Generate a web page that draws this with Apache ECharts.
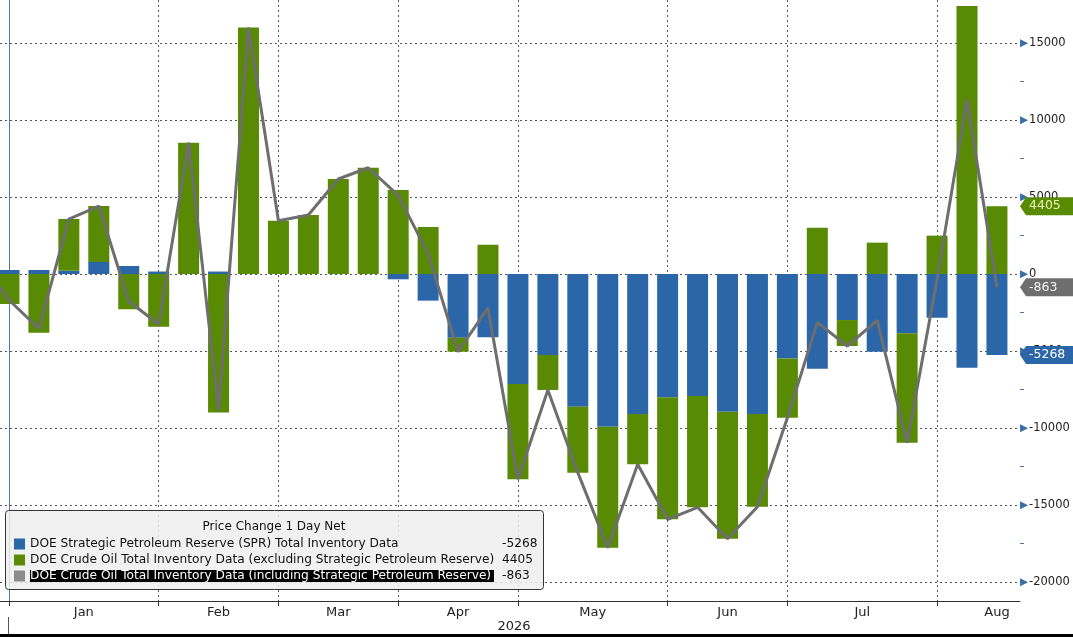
<!DOCTYPE html>
<html>
<head>
<meta charset="utf-8">
<script src="https://cdn.jsdelivr.net/npm/echarts@6/dist/echarts.min.js"></script>
<style>
  html, body { margin: 0; padding: 0; background: #fff; }
  #main { width: 1073px; height: 637px; }
</style>
</head>
<body>
<div id="main"></div>
<script>
// weekly DOE inventory change, 2026 (week ending Friday)
var weeks = [
  '2026-01-02', '2026-01-09', '2026-01-16', '2026-01-23', '2026-01-30',
  '2026-02-06', '2026-02-13', '2026-02-20', '2026-02-27',
  '2026-03-06', '2026-03-13', '2026-03-20', '2026-03-27',
  '2026-04-03', '2026-04-10', '2026-04-17', '2026-04-24',
  '2026-05-01', '2026-05-08', '2026-05-15', '2026-05-22', '2026-05-29',
  '2026-06-05', '2026-06-12', '2026-06-19', '2026-06-26',
  '2026-07-03', '2026-07-10', '2026-07-17', '2026-07-24', '2026-07-31',
  '2026-08-07', '2026-08-14', '2026-08-21'
];
var sprValues = [
  260, 260, 210, 780, 520,
  160, 0, 160, 0,
  0, 0, 0, 0,
  -345, -1730, -4135, -4100,
  -7140, -5260, -8615, -9915, -9090,
  -8010, -7920, -8940, -9090,
  -5480, -6150, -2990, -5045, -3850,
  -2835, -6080, -5268
];
var crudeExSprValues = [
  -1950, -3810, 3360, 3635, -2290,
  -3420, 8530, -9000, 16000,
  3460, 3830, 6170, 6900,
  5450, 3050, -910, 1900,
  -6190, -2270, -4285, -7855, -3270,
  -7920, -7230, -8250, -6020,
  -3850, 3010, -1685, 2035, -7100,
  2490, 17400, 4405
];
// total incl. SPR; the line also starts from the week before the window (2025-12-26)
var priorWeekTotal = 1000;
var totalValues = [
  -1690, -3550, 3570, 4415, -1770,
  -3260, 8530, -8840, 16000,
  3460, 3830, 6170, 6900,
  5105, 1320, -5045, -2200,
  -13330, -7530, -12900, -17770, -12360,
  -15930, -15150, -17190, -15110,
  -9330, -3140, -4675, -3010, -10950,
  -345, 11320, -863
];
var yTicks = [-20000, -15000, -10000, -5000, 0, 5000, 10000, 15000];
var yMinorTicks = [-17500, -12500, -7500, -2500, 2500, 7500, 12500];
var monthNames = ['Jan', 'Feb', 'Mar', 'Apr', 'May', 'Jun', 'Jul', 'Aug', 'Sep', 'Oct', 'Nov', 'Dec'];

var nameSpr = 'DOE Strategic Petroleum Reserve (SPR) Total Inventory Data';
var nameEx = 'DOE Crude Oil Total Inventory Data (excluding Strategic Petroleum Reserve)';
var nameIn = 'DOE Crude Oil Total Inventory Data (including Strategic Petroleum Reserve)';

var colBlue = '#2b66a8', colGreen = '#588a03', colGray = '#6e6e6e';
var FONT = 'DejaVu Sans';

// month start ticks (first week of each month) and centred month labels
var monthStarts = [], monthOf = [];
weeks.forEach(function (d, i) {
  var m = +d.slice(5, 7) - 1;
  if (i === 0 || m !== monthOf[monthOf.length - 1]) { monthStarts.push(i); monthOf.push(m); }
});
var labelPos = [], labelName = {};
monthStarts.forEach(function (s, k) {
  var e;
  if (k + 1 < monthStarts.length) e = monthStarts[k + 1];
  else {
    var p = weeks[s].split('-');
    var t = new Date(Date.UTC(+p[0], +p[1] - 1, +p[2])); e = s;
    while (t.getUTCMonth() === monthOf[k]) { e++; t.setUTCDate(t.getUTCDate() + 7); }
  }
  var mid = (s + e) / 2;
  labelPos.push(mid);
  labelName[String(mid)] = monthNames[monthOf[k]];
});

// x is the week number (Bloomberg spaces weeks evenly)
var xMin = -0.3, xMax = 33.77;
// bars as [value, week] so the value dimension is the stacked one
var sprData = sprValues.map(function (v, i) { return [v, i]; });
var exData = crudeExSprValues.map(function (v, i) { return [v, i]; });
var inData = [[-1, priorWeekTotal]].concat(totalValues.map(function (v, i) { return [i, v]; }));

var last = weeks.length - 1;
var lastVals = {};
lastVals[nameSpr] = sprValues[last];
lastVals[nameEx] = crudeExSprValues[last];
lastVals[nameIn] = totalValues[last];

function tag(value, fill, textColor) {
  return {
    symbol: 'path://M0,9 L6,0 L62,0 L62,18 L6,18 Z',
    symbolSize: [62, 18],
    symbolKeepAspect: false,
    symbolOffset: [31, 0],
    z: 10,
    silent: true,
    itemStyle: { color: fill },
    label: {
      show: true, position: 'insideLeft', distance: 9,
      color: textColor, fontFamily: FONT, fontSize: 12.5, formatter: String(value)
    },
    data: [{ coord: [xMax, value], value: value }]
  };
}

var myChart = echarts.init(document.getElementById('main'));

var option = {
  backgroundColor: '#ffffff',
  animation: false,
  grid: { left: 0, right: 53, top: 0, bottom: 36, containLabel: false },
  xAxis: {
    type: 'value',
    min: xMin,
    max: xMax,
    axisLine: { show: true, onZero: false, lineStyle: { color: '#333', width: 1 } },
    axisTick: { show: true, customValues: monthStarts, length: 5, lineStyle: { color: '#333' } },
    axisLabel: {
      show: true, customValues: labelPos, margin: 5,
      color: '#222', fontFamily: FONT, fontSize: 13,
      formatter: function (v) { return labelName[String(v)] || ''; }
    },
    splitLine: { show: true, lineStyle: { color: '#555', type: [2, 3], width: 1 } }
  },
  yAxis: [{
    type: 'value',
    position: 'right',
    min: -21234,
    max: 17792,
    axisLine: { show: true, lineStyle: { color: '#4f77a6', width: 1 } },
    axisTick: { show: false, customValues: yTicks },
    axisLabel: {
      show: true, customValues: yTicks, margin: 0,
      formatter: function (v) { return '{a|\u25B6}{t|' + v + '}'; },
      rich: {
        a: { color: '#3b6ea8', fontSize: 10.5, fontFamily: FONT },
        t: { color: '#222', fontSize: 11.5, fontFamily: FONT, padding: [0, 0, 0, 1] }
      }
    },
    splitLine: { show: true, lineStyle: { color: '#555', type: [2, 3], width: 1 } }
  }, {
    type: 'value',
    position: 'right',
    min: -21234,
    max: 17792,
    axisLine: { show: false },
    axisTick: { show: true, customValues: yMinorTicks, length: 4, lineStyle: { color: '#4f77a6' } },
    axisLabel: { show: false },
    splitLine: { show: false }
  }],
  legend: {
    orient: 'vertical',
    left: 14,
    top: 536,
    padding: 0,
    itemGap: 0,
    itemWidth: 11,
    itemHeight: 11,
    icon: 'rect',
    selectedMode: false,
    z: 6,
    data: [
      { name: nameSpr, itemStyle: { color: colBlue } },
      { name: nameEx, itemStyle: { color: colGreen } },
      { name: nameIn, itemStyle: { color: '#8c8c8c' } }
    ],
    formatter: function (name) {
      if (name === nameIn) return '{h|' + name + '}{hv|' + lastVals[name] + '}';
      return '{n|' + name + '}{v|' + lastVals[name] + '}';
    },
    textStyle: {
      fontFamily: FONT, fontSize: 12.2, color: '#111', lineHeight: 16,
      rich: {
        n: { fontFamily: FONT, fontSize: 12.2, color: '#111', width: 472, lineHeight: 16 },
        v: { fontFamily: FONT, fontSize: 12.2, color: '#111', lineHeight: 16 },
        h: { fontFamily: FONT, fontSize: 12.2, color: '#fff', backgroundColor: '#000', width: 464, lineHeight: 16 },
        hv: { fontFamily: FONT, fontSize: 12.2, color: '#111', lineHeight: 16, padding: [0, 0, 0, 8] }
      }
    }
  },
  graphic: [
    {
      type: 'rect', z: 3, silent: true,
      shape: { x: 5.5, y: 510.5, width: 538, height: 79, r: 3 },
      style: { fill: 'rgba(238,238,238,0.85)', stroke: '#333', lineWidth: 1 }
    },
    {
      type: 'text', z: 7, silent: true, x: 274, y: 527,
      style: { text: 'Price Change 1 Day Net', font: '12px "DejaVu Sans"', fill: '#111', textAlign: 'center', textVerticalAlign: 'middle' }
    },
    {
      type: 'text', z: 7, silent: true, x: 514, y: 627,
      style: { text: '2026', font: '13px "DejaVu Sans"', fill: '#222', textAlign: 'center', textVerticalAlign: 'middle' }
    },
    {
      type: 'line', z: 7, silent: true,
      shape: { x1: 8.5, y1: 617, x2: 8.5, y2: 634 },
      style: { stroke: '#555', lineWidth: 1 }
    },
    {
      type: 'rect', z: 7, silent: true,
      shape: { x: 0, y: 634, width: 1073, height: 3 },
      style: { fill: '#000' }
    }
  ],
  series: [
    {
      name: nameSpr,
      type: 'bar',
      stack: 'inv',
      barWidth: 21,
      encode: { x: 1, y: 0 },
      itemStyle: { color: colBlue },
      data: sprData,
      markPoint: tag(lastVals[nameSpr], colBlue, '#ffffff')
    },
    {
      name: nameEx,
      type: 'bar',
      stack: 'inv',
      barWidth: 21,
      encode: { x: 1, y: 0 },
      itemStyle: { color: colGreen },
      data: exData,
      markPoint: tag(lastVals[nameEx], colGreen, '#eaf5b5')
    },
    {
      name: nameIn,
      type: 'line',
      z: 4,
      symbol: 'none',
      lineStyle: { color: colGray, width: 3 },
      itemStyle: { color: colGray },
      data: inData,
      markPoint: tag(lastVals[nameIn], colGray, '#f2f2f2')
    }
  ]
};

if (option && typeof option === 'object') {
  myChart.setOption(option, true);
}
</script>
</body>
</html>
